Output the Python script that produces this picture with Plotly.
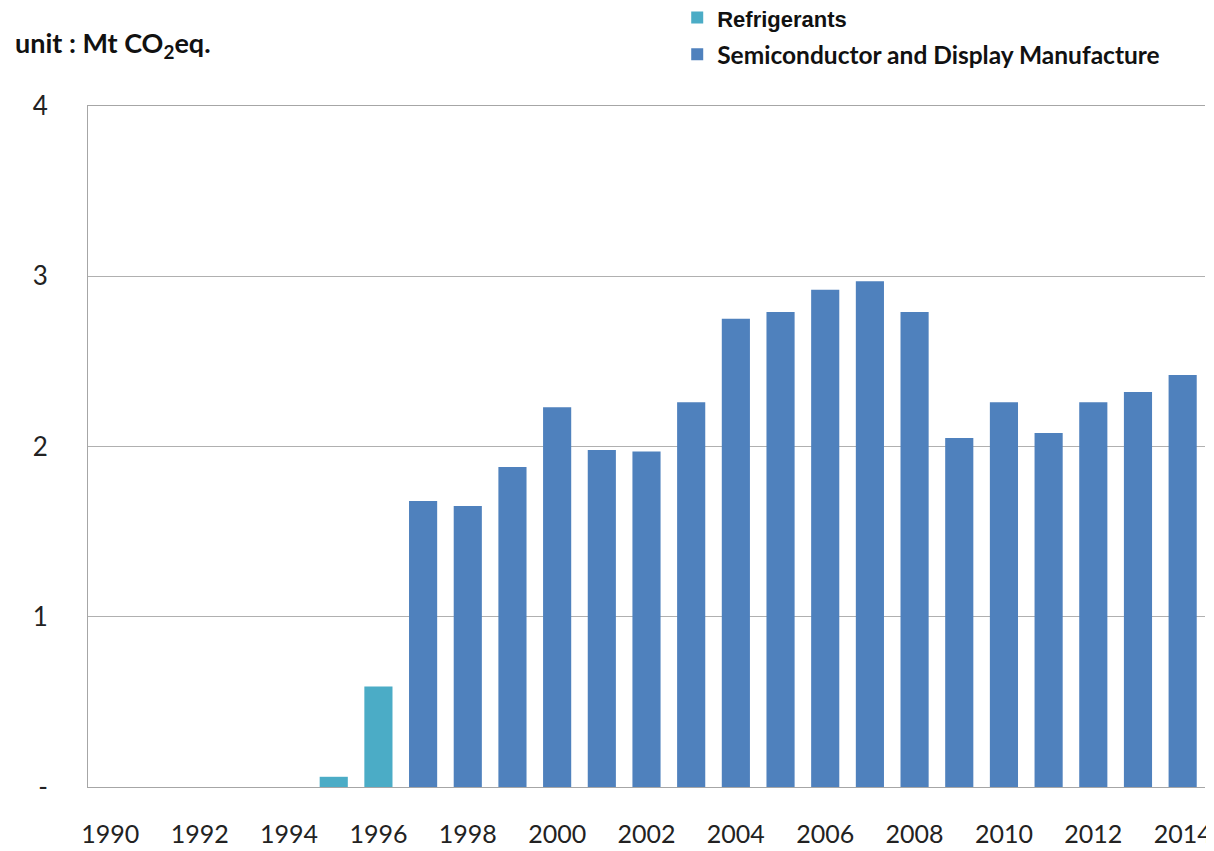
import plotly.graph_objects as go

years = [str(y) for y in range(1990, 2015)]
refrigerants = [None, None, None, None, None, 0.06, 0.59] + [None] * 18
semiconductor = [None] * 7 + [1.68, 1.65, 1.88, 2.23, 1.98, 1.97, 2.26, 2.75, 2.79,
                              2.92, 2.97, 2.79, 2.05, 2.26, 2.08, 2.26, 2.32, 2.42]
x_tick_labels = [str(y) for y in range(1990, 2015, 2)]
y_tick_vals = [0, 1, 2, 3, 4]
y_tick_text = ["-", "1", "2", "3", "4"]

FONT = "Lato"

fig = go.Figure()
fig.add_trace(go.Bar(
    x=years, y=refrigerants,
    name="<span style=\"font-family:'Liberation Sans',Arial,sans-serif;font-size:22px\">Refrigerants</span>",
    marker=dict(color="#4BACC6", line=dict(width=0)),
    legendgroup="a",
))
fig.add_trace(go.Bar(
    x=years, y=semiconductor,
    name="Semiconductor and Display Manufacture",
    marker=dict(color="#4F81BD", line=dict(width=0)),
    legendgroup="b",
))

fig.update_layout(
    width=1206, height=843,
    margin=dict(l=80, r=9, t=98, b=64, autoexpand=False),
    paper_bgcolor="white", plot_bgcolor="white",
    barmode="overlay", bargap=0.37,
    font=dict(family=FONT, color="#222222"),
    showlegend=True,
    legend=dict(
        x=0.5275, y=1.163, xanchor="left", yanchor="top",
        font=dict(family=FONT, size=24.5, color="#111111", weight="bold"),
        bgcolor="rgba(0,0,0,0)", tracegroupgap=2,
        itemclick=False,
    ),
    xaxis=dict(
        type="category",
        tickmode="array", tickvals=x_tick_labels, ticktext=x_tick_labels,
        tickfont=dict(family=FONT, size=25, color="#222222"),
        showline=True, linecolor="#A6A6A6", linewidth=1, mirror=True,
        showgrid=False, ticks="", ticklabelstandoff=25,
    ),
    yaxis=dict(
        range=[0, 4],
        tickmode="array", tickvals=y_tick_vals, ticktext=y_tick_text,
        tickfont=dict(family=FONT, size=26, color="#222222"),
        showline=True, linecolor="#A6A6A6", linewidth=1,
        showgrid=True, gridcolor="#B0B0B0", gridwidth=1,
        zeroline=False, ticks="", ticklabelstandoff=34,
    ),
    annotations=[dict(
        text="unit : Mt CO<sub>2</sub>eq.",
        xref="paper", yref="paper", x=-0.067, y=1.091,
        xanchor="left", yanchor="middle", showarrow=False,
        font=dict(family=FONT, size=27, color="#111111", weight="bold"),
    )],
)

fig.write_html("out.html")
